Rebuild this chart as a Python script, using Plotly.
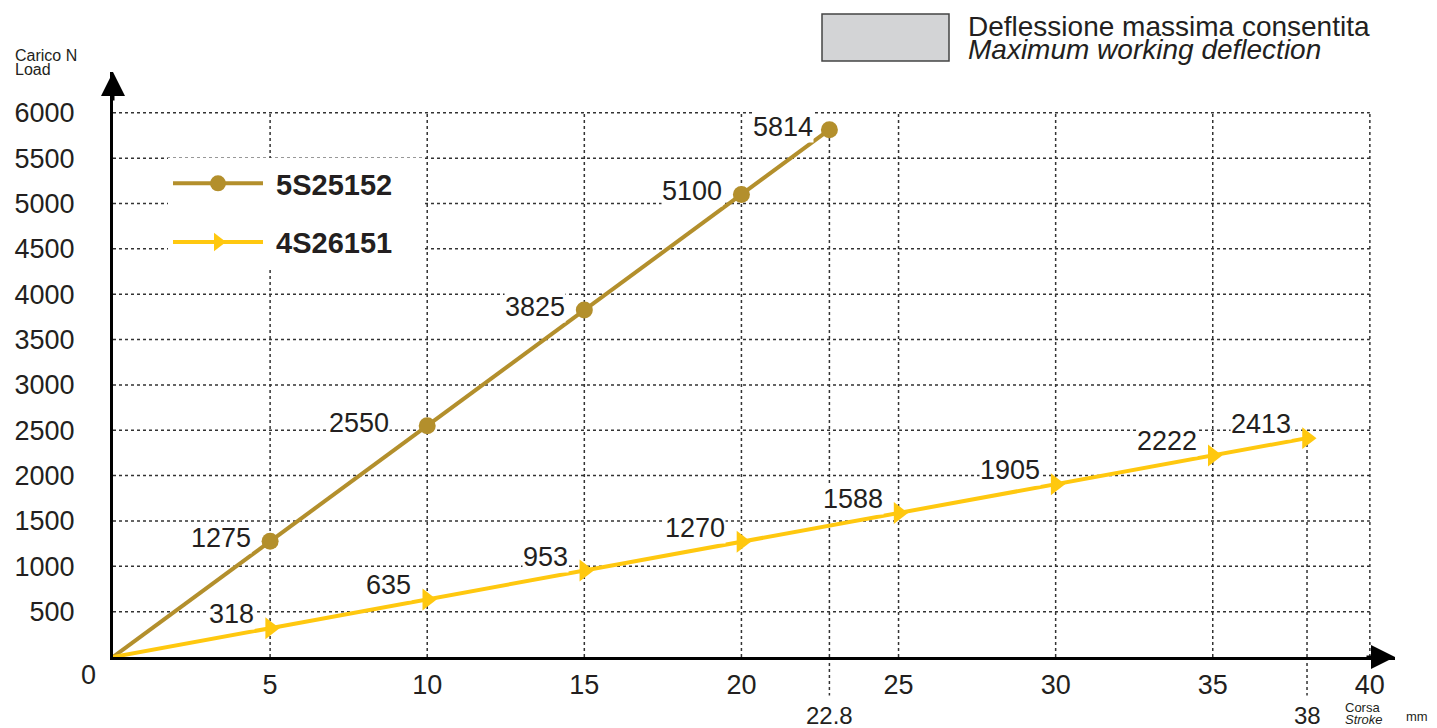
import plotly.graph_objects as go

# ---------------- data ----------------
STROKE_5S = [5, 10, 15, 20, 22.8]
LOAD_5S = [1275, 2550, 3825, 5100, 5814]
STROKE_4S = [5, 10, 15, 20, 25, 30, 35, 38]
LOAD_4S = [318, 635, 953, 1270, 1588, 1905, 2222, 2413]
NAME_5S = "5S25152"
NAME_4S = "4S26151"
X_TICKS = [5, 10, 15, 20, 25, 30, 35, 40]
Y_TICKS = [500, 1000, 1500, 2000, 2500, 3000, 3500, 4000, 4500, 5000, 5500, 6000]
MAX_STROKES = [22.8, 38]
MAX_LOADS = [5814, 2413]

# ---------------- style ----------------
FONT = "Liberation Sans, Arial, sans-serif"
TXT = "#231F20"
C5 = "#B38F2C"
C4 = "#FFC80F"
GRID = "#333333"
W, H = 1437, 728
L, R, T, B = 113, 1395, 72, 657
X_MAX, Y_MAX = 40.8, 6450
LBL_DX_5S = [-18, -37, -18, -18, -15]
NUM_SIZE = 27


def px(x):
    return (x - L) / (R - L)


def py(y):
    return (B - y) / (B - T)


fig = go.Figure()

# origin segments
fig.add_trace(go.Scatter(x=[0] + STROKE_5S[:1], y=[0] + LOAD_5S[:1], mode="lines",
                         line=dict(color=C5, width=4), showlegend=False, hoverinfo="skip"))
fig.add_trace(go.Scatter(x=[0] + STROKE_4S[:1], y=[0] + LOAD_4S[:1], mode="lines",
                         line=dict(color=C4, width=4), showlegend=False, hoverinfo="skip"))

fig.add_trace(go.Scatter(x=STROKE_5S, y=LOAD_5S, mode="lines+markers",
                         name="\u00a0<b>" + NAME_5S + "</b>\u00a0\u00a0\u00a0",
                         legendgroup="a", line=dict(color=C5, width=4),
                         marker=dict(symbol="circle", size=17, color=C5)))
fig.add_trace(go.Scatter(x=STROKE_4S, y=LOAD_4S, mode="lines+markers",
                         name="\u00a0<b>" + NAME_4S + "</b>\u00a0\u00a0\u00a0",
                         legendgroup="b", line=dict(color=C4, width=4),
                         marker=dict(symbol="triangle-right", size=19, color=C4)))

shapes = []
# horizontal grid
for v in Y_TICKS:
    shapes.append(dict(type="line", xref="x", yref="y", x0=0, x1=40, y0=v, y1=v,
                       line=dict(color=GRID, width=1.5, dash="dot"), layer="below"))
# vertical grid
for v in X_TICKS:
    shapes.append(dict(type="line", xref="x", yref="y", x0=v, x1=v, y0=0, y1=6000,
                       line=dict(color=GRID, width=1.5, dash="dot"), layer="below"))
# max deflection lines
for sx, ly in zip(MAX_STROKES, MAX_LOADS):
    shapes.append(dict(type="line", xref="x", yref="y", x0=sx, x1=sx, y0=0, y1=ly,
                       line=dict(color=GRID, width=1.5, dash="dot"), layer="below"))
    shapes.append(dict(type="line", xref="x", yref="y domain", x0=sx, x1=sx, y0=0, y1=-0.066,
                       line=dict(color=GRID, width=1.5, dash="dot"), layer="below"))
# grey key box
shapes.append(dict(type="rect", xref="paper", yref="paper", x0=px(822), x1=px(949), y0=py(61), y1=py(14),
                   fillcolor="#D3D4D6", line=dict(color="#444444", width=1.5)))

ann = []
for x, y, dx in zip(STROKE_5S, LOAD_5S, LBL_DX_5S):
    ann.append(dict(x=x, y=y, xref="x", yref="y", text=str(y), showarrow=False,
                    xanchor="right", yanchor="middle", xshift=dx, yshift=3,
                    bgcolor="white", borderpad=0, font=dict(size=NUM_SIZE, color=TXT, family=FONT)))
for x, y in zip(STROKE_4S, LOAD_4S):
    ann.append(dict(x=x, y=y, xref="x", yref="y", text=str(y), showarrow=False,
                    xanchor="right", yanchor="middle", xshift=-15, yshift=14,
                    bgcolor="white", borderpad=0, font=dict(size=NUM_SIZE, color=TXT, family=FONT)))
# extra stroke labels
for sx in MAX_STROKES:
    ann.append(dict(x=sx, y=0, xref="x", yref="y domain", text=str(sx), showarrow=False,
                    xanchor="center", yanchor="middle", yshift=-(715 - B),
                    font=dict(size=24, color=TXT, family=FONT)))
# origin label
ann.append(dict(x=px(88), y=py(675), xref="paper", yref="paper", text="0", showarrow=False,
                xanchor="center", yanchor="middle", font=dict(size=NUM_SIZE, color=TXT, family=FONT)))
# axis arrows
ann.append(dict(x=X_MAX, y=0, xref="x", yref="y domain", ax=-30, ay=0, text="", showarrow=True,
                arrowhead=2, arrowsize=1.6, arrowwidth=3, arrowcolor="black"))
ann.append(dict(x=0, y=Y_MAX, xref="x domain", yref="y", ax=0, ay=30, text="", showarrow=True,
                arrowhead=2, arrowsize=1.6, arrowwidth=3, arrowcolor="black"))
# axis titles
for txt, yy in (("Carico N", 55), ("Load", 69)):
    ann.append(dict(x=px(13), y=py(yy), xref="paper", yref="paper", text=txt, showarrow=False,
                    xanchor="left", yanchor="middle", font=dict(size=16, color=TXT, family=FONT)))
for txt, yy in (("Corsa", 707), ("<i>Stroke</i>", 719)):
    ann.append(dict(x=px(1343), y=py(yy), xref="paper", yref="paper", text=txt, showarrow=False,
                    xanchor="left", yanchor="middle", font=dict(size=13, color=TXT, family=FONT)))
ann.append(dict(x=px(1404), y=py(716), xref="paper", yref="paper", text="mm",
                showarrow=False, xanchor="left", yanchor="middle",
                font=dict(size=13, color=TXT, family=FONT)))
# key text
ann.append(dict(x=px(966), y=py(26), xref="paper", yref="paper", text="Deflessione massima consentita",
                showarrow=False, xanchor="left", yanchor="middle",
                font=dict(size=28, color=TXT, family=FONT)))
ann.append(dict(x=px(966), y=py(50), xref="paper", yref="paper", text="<i>Maximum working deflection</i>",
                showarrow=False, xanchor="left", yanchor="middle",
                font=dict(size=28, color=TXT, family=FONT)))

fig.update_layout(
    width=W, height=H,
    margin=dict(l=L, r=W - R, t=T, b=H - B, pad=0),
    paper_bgcolor="white", plot_bgcolor="white",
    font=dict(family=FONT, color=TXT, size=NUM_SIZE),
    xaxis=dict(range=[0, X_MAX], showgrid=False, zeroline=False, showline=True, linecolor="black",
               linewidth=3, tickvals=X_TICKS, ticks="", ticklabelstandoff=2,
               tickfont=dict(size=NUM_SIZE, color=TXT, family=FONT), fixedrange=True),
    yaxis=dict(range=[0, Y_MAX], showgrid=False, zeroline=False, showline=True, linecolor="black",
               linewidth=3, tickvals=Y_TICKS, ticks="", ticklabelstandoff=30,
               tickfont=dict(size=NUM_SIZE, color=TXT, family=FONT), fixedrange=True),
    legend=dict(x=px(168), y=py(158), xanchor="left", yanchor="top", bgcolor="white",
                font=dict(size=29, color=TXT, family=FONT), itemwidth=90,
                tracegroupgap=18, traceorder="grouped"),
    shapes=shapes,
    annotations=ann,
    showlegend=True,
)

fig.write_html("out.html", config={"displayModeBar": False},
               post_script="document.body.style.margin='0px';")
